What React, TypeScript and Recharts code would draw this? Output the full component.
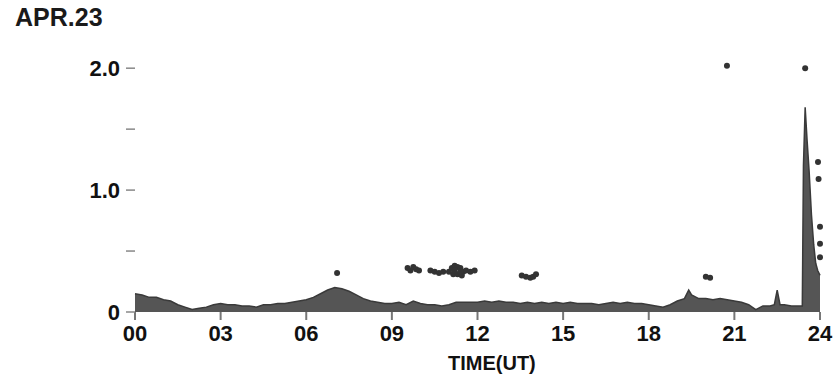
import { Area, ComposedChart, Scatter, XAxis, YAxis } from "recharts";

// Hours (UT) and flux.
const hours = [
  0, 0.25, 0.5, 0.75, 1, 1.25, 1.5, 1.75, 2, 2.25, 2.5, 2.75, 3, 3.25, 3.5, 3.75,
  4, 4.25, 4.5, 4.75, 5, 5.25, 5.5, 5.75, 6, 6.25, 6.5, 6.75, 7, 7.25, 7.5, 7.75,
  8, 8.25, 8.5, 8.75, 9, 9.25, 9.5, 9.75, 10, 10.25, 10.5, 10.75, 11, 11.25, 11.5, 11.75,
  12, 12.25, 12.5, 12.75, 13, 13.25, 13.5, 13.75, 14, 14.25, 14.5, 14.75, 15, 15.25, 15.5, 15.75,
  16, 16.25, 16.5, 16.75, 17, 17.25, 17.5, 17.75, 18, 18.25, 18.5, 18.75, 19, 19.25, 19.4, 19.5,
  19.75, 20, 20.25, 20.5, 20.75, 21, 21.25, 21.5, 21.75, 22, 22.25, 22.4, 22.5, 22.6, 22.75, 23,
  23.25, 23.38, 23.42, 23.48, 23.55, 23.62, 23.7, 23.78, 23.85, 23.92, 24,
];

const flux = [
  0.15, 0.14, 0.12, 0.12, 0.1, 0.09, 0.06, 0.04, 0.02, 0.03, 0.04, 0.06, 0.07, 0.06, 0.06, 0.05,
  0.05, 0.04, 0.06, 0.06, 0.07, 0.07, 0.08, 0.09, 0.1, 0.12, 0.15, 0.18, 0.2, 0.19, 0.17, 0.14,
  0.11, 0.09, 0.08, 0.07, 0.07, 0.08, 0.06, 0.09, 0.07, 0.06, 0.06, 0.05, 0.06, 0.08, 0.08, 0.08,
  0.08, 0.09, 0.08, 0.09, 0.08, 0.08, 0.07, 0.08, 0.07, 0.08, 0.07, 0.08, 0.07, 0.08, 0.07, 0.07,
  0.07, 0.06, 0.07, 0.08, 0.07, 0.08, 0.07, 0.07, 0.06, 0.05, 0.04, 0.06, 0.09, 0.11, 0.18, 0.14,
  0.11, 0.11, 0.1, 0.11, 0.1, 0.09, 0.08, 0.06, 0.02, 0.05, 0.05, 0.06, 0.18, 0.06, 0.06, 0.05,
  0.05, 0.05, 1.2, 1.68, 1.4, 1.15, 0.8, 0.55, 0.4, 0.34, 0.3,
];

// Isolated dots and clumps above the trace.
const dotHours = [
  7.08, 9.55, 9.65, 9.75, 9.85, 9.95, 10.35, 10.5, 10.65, 10.8,
  11.0, 11.1, 11.2, 11.3, 11.4, 11.5, 11.15, 11.3, 11.45, 11.6, 11.75, 11.9,
  11.2, 11.4, 13.55, 13.7, 13.85, 13.95, 14.05, 20.0, 20.15, 20.74, 23.48,
  23.93, 23.95, 24.0, 24.0, 24.0,
];
const dotFlux = [
  0.32, 0.36, 0.34, 0.37, 0.35, 0.34, 0.34, 0.33, 0.32, 0.33,
  0.33, 0.36, 0.38, 0.37, 0.36, 0.33, 0.31, 0.31, 0.3, 0.34, 0.33, 0.34,
  0.34, 0.33, 0.3, 0.29, 0.28, 0.29, 0.31, 0.29, 0.28, 2.02, 2.0,
  1.23, 1.09, 0.7, 0.56, 0.45,
];

const xTicks = [0, 3, 6, 9, 12, 15, 18, 21, 24];
const yTicks = [0, 0.5, 1, 1.5, 2];
const yLabels: Record<number, string> = { 0: "0", 1: "1.0", 2: "2.0" };

const traceData = hours.map((h, i) => ({ h, v: flux[i] }));
const dotData = dotHours.map((h, i) => ({ h, v: dotFlux[i] }));

const FONT = "'Liberation Sans', Arial, sans-serif";

export default function App() {
  return (
    <div style={{ position: "absolute", left: 0, top: 0, width: 836, height: 381, background: "#fff", fontFamily: FONT }}>
      <div style={{ position: "absolute", left: 15, top: 2, fontSize: 25, fontWeight: 700, color: "#1a1a1a", lineHeight: "30px" }}>
        APR.23
      </div>
      <ComposedChart
        width={836}
        height={381}
        data={traceData}
        margin={{ top: 56, right: 16, left: 0, bottom: 29 }}
      >
        <XAxis
          dataKey="h"
          type="number"
          domain={[0, 24]}
          ticks={xTicks}
          axisLine={false}
          tickSize={8}
          tickMargin={5}
          height={40}
          tickLine={{ stroke: "#777", strokeWidth: 2 }}
          tickFormatter={(v) => String(v).padStart(2, "0")}
          tick={{ fontSize: 22, fontWeight: 700, fill: "#111", fontFamily: FONT }}
        />
        <YAxis
          type="number"
          domain={[0, 2.1]}
          ticks={yTicks}
          axisLine={false}
          width={135}
          tickSize={9}
          tickMargin={6}
          tickLine={{ stroke: "#888", strokeWidth: 1.5 }}
          tickFormatter={(v) => yLabels[v] ?? ""}
          tick={{ fontSize: 22, fontWeight: 700, fill: "#111", fontFamily: FONT }}
        />
        <Area
          dataKey="v"
          type="linear"
          stroke="#3a3a3a"
          strokeWidth={1.5}
          fill="#555"
          fillOpacity={1}
          isAnimationActive={false}
        />
        <Scatter
          data={dotData}
          dataKey="v"
          fill="#333"
          isAnimationActive={false}
          shape={(p: any) => <circle cx={p.cx} cy={p.cy} r={3} fill="#333" />}
        />
      </ComposedChart>
      <div style={{ position: "absolute", left: 448, top: 352, fontSize: 20, fontWeight: 700, color: "#111", lineHeight: "22px" }}>
        TIME(UT)
      </div>
    </div>
  );
}
